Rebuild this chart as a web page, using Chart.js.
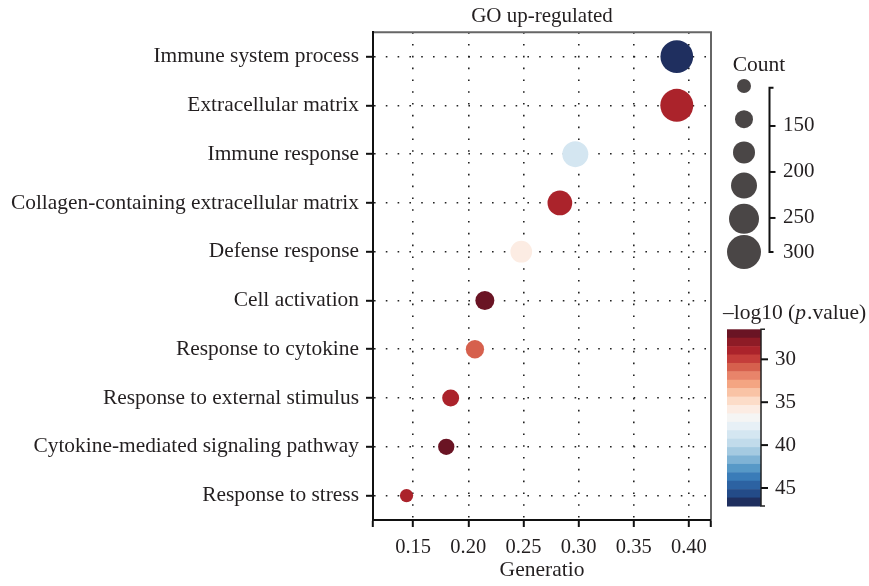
<!DOCTYPE html>
<html><head><meta charset="utf-8">
<script src="https://cdn.jsdelivr.net/npm/chart.js@4/dist/chart.umd.min.js"></script>
<style>html,body{margin:0;padding:0;background:#fff}#wrap{width:869px;height:586px}</style>
</head><body><div id="wrap"><canvas id="c" width="869" height="586"></canvas></div>
<script>
// ---- data ----
const categories = [
  'Immune system process',
  'Extracellular matrix',
  'Immune response',
  'Collagen-containing extracellular matrix',
  'Defense response',
  'Cell activation',
  'Response to cytokine',
  'Response to external stimulus',
  'Cytokine-mediated signaling pathway',
  'Response to stress'
];
const geneRatio = [0.389, 0.389, 0.297, 0.283, 0.248, 0.215, 0.206, 0.184, 0.180, 0.144];
const counts    = [287, 290, 220, 207, 177, 150, 143, 130, 123, 93];
const negLog10P = [47.0, 28.7, 38.8, 28.9, 35.7, 27.0, 31.4, 29.0, 26.6, 28.9];
const xTicks = [0.15, 0.20, 0.25, 0.30, 0.35, 0.40];
const countLegendValues = [100, 140, 180, 220, 260, 300];
const countLegendTicks = [150, 200, 250, 300];
const colorTicks = [30, 35, 40, 45];
const paletteColors = [
  '#6a1424','#8e1b26','#ab232b','#c43d3a','#d6604d','#e8846a','#f4a582',
  '#f9c3a5','#fcdcc8','#fcece3','#f5f5f4','#e7f0f6','#d4e6f1','#c1dbeb',
  '#a4cae1','#7fb3d5','#5799c7','#3a7cb8','#2c62a2','#234b88','#1f2f5f'
];
const colorMin = 26.5, colorMax = 47.1;
const xMin = 0.1136, xMax = 0.42;

// ---- mappings ----
function sizeOf(c) { return (14 + (c - 100) * 0.1) / 2; }
function colorOf(v) {
  const n = paletteColors.length;
  let k = Math.floor((v - colorMin) / (colorMax - colorMin) * n);
  k = Math.max(0, Math.min(n - 1, k));
  return paletteColors[k];
}

const FONT = "'Liberation Serif', 'Times New Roman', serif";
const TXT = '#231f20';
Chart.defaults.font.family = FONT;
Chart.defaults.color = TXT;

const legendPlugin = {
  id: 'legends',
  afterDraw(chart) {
    const ctx = chart.ctx, a = chart.chartArea;
    ctx.save();
    // top / right frame
    ctx.strokeStyle = '#666'; ctx.lineWidth = 2;
    ctx.beginPath(); ctx.moveTo(a.left + 1, a.top); ctx.lineTo(a.right, a.top); ctx.lineTo(a.right, a.bottom - 1); ctx.stroke();

    // Count legend
    const R = a.right;
    ctx.fillStyle = TXT;
    ctx.font = '21.5px ' + FONT;
    ctx.textAlign = 'center'; ctx.textBaseline = 'middle';
    ctx.fillText('Count', R + 48, 65);
    countLegendValues.forEach((v, i) => {
      ctx.beginPath();
      ctx.fillStyle = '#4a4646';
      ctx.arc(R + 33, 86 + i * 33.2, sizeOf(v), 0, Math.PI * 2);
      ctx.fill();
    });
    const barX = R + 58.5, barTop = 87.7, barBot = 252;
    const bMin = 108.4, bMax = 287;
    const yOfCount = c => Math.min(barBot, barTop + (c - bMin) / (bMax - bMin) * (barBot - barTop));
    ctx.strokeStyle = '#111'; ctx.lineWidth = 2;
    ctx.beginPath();
    ctx.moveTo(barX + 4, barTop); ctx.lineTo(barX, barTop); ctx.lineTo(barX, barBot); ctx.lineTo(barX + 4, barBot);
    ctx.stroke();
    ctx.fillStyle = TXT; ctx.font = '21px ' + FONT; ctx.textAlign = 'left';
    countLegendTicks.forEach(t => {
      const y = yOfCount(t);
      if (y < barBot) { ctx.beginPath(); ctx.moveTo(barX, y); ctx.lineTo(barX + 6, y); ctx.stroke(); }
      ctx.fillText(String(t), R + 72, y);
    });

    // Color bar
    const cx0 = R + 16, cx1 = R + 50, cTop = 329.3, cBot = 506;
    const yOfVal = v => cTop + (v - colorMin) / (colorMax - colorMin) * (cBot - cTop);
    const n = paletteColors.length;
    const step = (colorMax - colorMin) / n;
    paletteColors.forEach((col, i) => {
      const y0 = yOfVal(colorMin + i * step), y1 = yOfVal(colorMin + (i + 1) * step);
      ctx.fillStyle = col;
      ctx.fillRect(cx0, y0, cx1 - cx0, y1 - y0 + 0.5);
    });
    ctx.strokeStyle = '#222'; ctx.lineWidth = 1.5;
    ctx.beginPath();
    ctx.moveTo(cx1 + 4, cTop); ctx.lineTo(cx1, cTop); ctx.lineTo(cx1, cBot); ctx.lineTo(cx1 + 4, cBot);
    ctx.stroke();
    ctx.lineWidth = 2; ctx.strokeStyle = '#111';
    ctx.fillStyle = TXT; ctx.textAlign = 'left'; ctx.font = '21px ' + FONT;
    colorTicks.forEach(t => {
      const y = yOfVal(t);
      ctx.beginPath(); ctx.moveTo(cx1, y); ctx.lineTo(cx1 + 7, y); ctx.stroke();
      ctx.fillText(String(t), R + 64, y);
    });
    // colour bar title with italic p
    let x = R + 12; const ty = 313;
    const parts = [['\u2013log10 (', ''], ['p', 'italic '], ['.value)', '']];
    parts.forEach(([s, st]) => {
      ctx.font = st + '21.5px ' + FONT;
      ctx.fillText(s, x, ty);
      x += ctx.measureText(s).width + (st ? 1 : 0);
    });
    ctx.restore();
  }
};

const gridCommon = {
  color: '#222', lineWidth: 1.6, tickLength: 7, tickColor: '#111', tickWidth: 2, tickBorderDash: [], offset: false
};
const borderCommon = { color: '#111', width: 2, dash: [1.6, 10.2] };

new Chart(document.getElementById('c'), {
  type: 'bubble',
  data: {
    labels: categories,
    datasets: [{
      data: categories.map((c, i) => ({ x: geneRatio[i], y: c, r: sizeOf(counts[i]) })),
      backgroundColor: negLog10P.map(colorOf),
      borderWidth: 0,
      hoverRadius: 0
    }]
  },
  options: {
    responsive: false,
    animation: false,
    devicePixelRatio: 1,
    events: [],
    layout: { padding: { left: 0, right: 158, top: 0, bottom: 0 } },
    plugins: {
      legend: { display: false },
      tooltip: { enabled: false },
      title: {
        display: true, text: 'GO up-regulated', fullSize: false,
        font: { size: 21, weight: 'normal', family: FONT }, color: TXT,
        padding: { top: 4, bottom: 3 }
      }
    },
    scales: {
      x: {
        type: 'linear', position: 'bottom', min: xMin, max: xMax, z: 1,
        afterBuildTicks: s => { s.ticks = [xMin, ...xTicks, xMax].map(v => ({ value: v })); },
        afterFit: s => { s.height = 66; },
        ticks: {
          autoSkip: false, maxRotation: 0, padding: 8,
          font: { size: 20.5, family: FONT }, color: TXT,
          callback: v => xTicks.includes(v) ? v.toFixed(2) : ''
        },
        grid: gridCommon,
        border: borderCommon,
        title: { display: true, text: 'Generatio', font: { size: 21.5, family: FONT }, color: TXT, padding: { top: 0, bottom: 3 } }
      },
      y: {
        type: 'category', labels: categories, offset: true, z: 1,
        afterFit: s => { s.width = 373; },
        ticks: { autoSkip: false, padding: 7, font: { size: 21.4, family: FONT }, color: TXT },
        grid: gridCommon,
        border: borderCommon
      }
    }
  },
  plugins: [legendPlugin]
});
</script>
</body></html>
